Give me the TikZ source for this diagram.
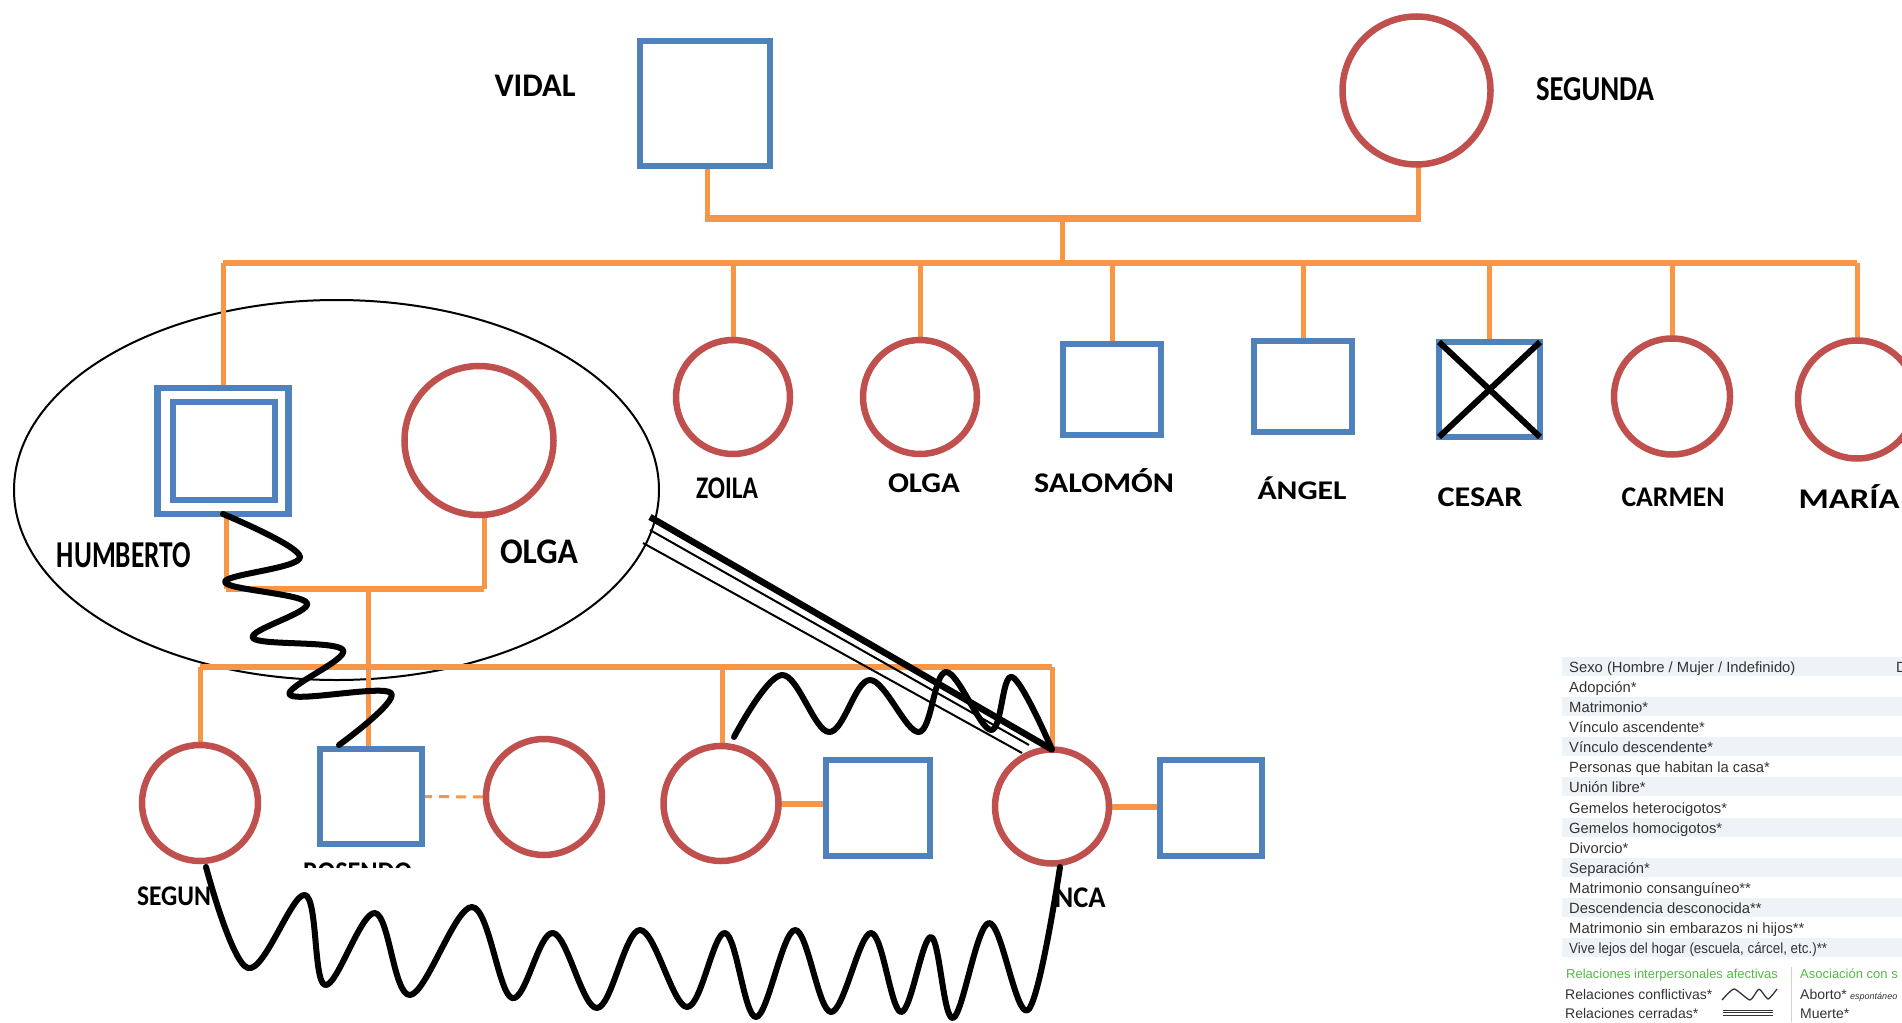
\documentclass[tikz,border=0pt]{standalone}
\usepackage{fontspec}
\usepackage{graphicx}
\setmainfont{Carlito}
\newfontfamily\lgfont{Liberation Sans}
\usetikzlibrary{shapes.geometric,backgrounds}
\definecolor{pblue}{HTML}{4F81BD}
\definecolor{pred}{HTML}{C0504D}
\definecolor{porange}{HTML}{F79646}
\definecolor{lgband}{HTML}{EEF3F8}
\definecolor{lgtext}{HTML}{333333}
\definecolor{lggreen}{HTML}{55B848}
\newcommand\nmlbl[3]{{\fontsize{#1}{#1}\selectfont\bfseries\resizebox{#2}{\height}{#3}}}
\begin{document}
\begin{tikzpicture}[x=1pt,y=-1pt,
  male/.style={draw=pblue, line width=6.5pt, rectangle, inner sep=0pt, outer sep=0pt, fill=white},
  female/.style={draw=pred, line width=6.5pt, circle, inner sep=0pt, outer sep=0pt, fill=white},
  oline/.style={draw=porange, line width=6pt, line cap=square},
  odrop/.style={draw=porange, line width=5pt},
  wave/.style={draw=black, line width=6pt, line cap=round, line join=round},
  pname/.style={inner sep=0pt, outer sep=0pt, anchor=base, text=black},
  lg/.style={font=\lgfont\fontsize{14.8}{14.8}\selectfont, text=lgtext, anchor=base west, inner sep=0pt},
  lgs/.style={font=\lgfont\fontsize{14}{14}\selectfont, text=lgtext, anchor=base west, inner sep=0pt},
  lgg/.style={font=\lgfont\fontsize{13}{13}\selectfont, text=lggreen, anchor=base west, inner sep=0pt},
]
\useasboundingbox (0,0) rectangle (1902,1022);

% ---------- persons ----------
\node[male, minimum width=130pt, minimum height=125pt] (vidal) at (705,103.5) {};
\node[female, minimum size=148pt] (segunda) at (1416.5,90.5) {};

\node[male, minimum width=131pt, minimum height=126pt] (hum) at (223,451) {};
\node[male, minimum width=102pt, minimum height=98pt] (huminner) at (224,451) {};
\node[female, minimum size=149pt] (olga2) at (479,440.5) {};

\node[female, minimum size=114pt] (zoila) at (733,397) {};
\node[female, minimum size=114pt] (olga) at (920,397) {};
\node[male, minimum width=98pt, minimum height=91pt] (salomon) at (1112,389.5) {};
\node[male, minimum width=98pt, minimum height=91pt] (angel) at (1303,386.5) {};
\node[male, minimum width=101pt, minimum height=95pt] (cesar) at (1489.5,389.5) {};
\node[female, minimum size=116pt] (carmen) at (1672,396.5) {};
\node[female, minimum size=118pt] (maria) at (1857,399.5) {};

\node[female, minimum size=116pt] (c1) at (200,803) {};
\node[male, minimum width=102pt, minimum height=95pt] (ros) at (371,796.5) {};
\node[female, minimum size=116pt] (c3) at (544,797) {};
\node[female, minimum size=115pt] (c4) at (721,803.5) {};
\node[male, minimum width=104pt, minimum height=96pt] (s4) at (878,808) {};
\node[female, minimum size=114pt] (c5) at (1052,806.5) {};
\node[male, minimum width=102pt, minimum height=96pt] (s5) at (1211,808) {};

% ---------- junction coordinates ----------
\coordinate (vs) at (1062,218);
\coordinate (sib) at (1062,263);
\coordinate (hc) at (368,589);
\coordinate (ch) at (368,667);

\begin{pgfonlayer}{background}
  \node[ellipse, draw=black, line width=2pt, minimum width=645pt, minimum height=380pt, inner sep=0pt] (fam) at (336.5,490) {};
  % parents
  \draw[odrop] ([xshift=2pt]vidal.south) -- ([xshift=2pt]vidal.south |- vs);
  \draw[odrop] ([xshift=1.5pt]segunda.south) -- ([xshift=1.5pt]segunda.south |- vs);
  \draw[porange, line width=7pt] ([xshift=-0.5pt]vidal.south |- vs) -- ([xshift=4pt]segunda.south |- vs);
  \draw[odrop] (vs) -- (sib);
  % siblings
  \draw[oline] (hum.north |- sib) -- (maria.north |- sib);
  \foreach \p in {hum,zoila,olga,salomon,angel,cesar,carmen,maria}
    \draw[odrop] (\p.north |- sib) -- (\p.north);
  % Humberto + Olga
  \draw[odrop] ([xshift=3pt]hum.south) -- ([xshift=3pt]hum.south |- hc);
  \draw[odrop] ([xshift=5pt]olga2.south) -- ([xshift=5pt]olga2.south |- hc);
  \draw[oline] ([xshift=3pt]hum.south |- hc) -- ([xshift=5pt]olga2.south |- hc);
  \draw[odrop] (hc) -- (hc |- ros.north);
  % children
  \draw[oline] (c1.north |- ch) -- (c5.north |- ch);
  \draw[odrop] (c1.north |- ch) -- (c1.north);
  \draw[odrop] ([xshift=1pt]c4.north |- ch) -- ([xshift=1pt]c4.north);
  \draw[odrop] (c5.north |- ch) -- (c5.north);
  \draw[porange, line width=3pt, dash pattern=on 10pt off 7pt] (ros.east) -- (c3.west);
  \draw[porange, line width=6pt] (c4.east) -- (c4.east -| s4.west);
  \draw[porange, line width=6pt] (c5.east) -- (c5.east -| s5.west);
\end{pgfonlayer}

% ---------- deceased mark ----------
\draw[black, line width=6pt] (cesar.north west) -- (cesar.south east);
\draw[black, line width=6pt] (cesar.south west) -- (cesar.north east);

% ---------- relationship lines ----------
\coordinate (z1e) at (339,745);
\draw[wave] plot[smooth, tension=0.6] coordinates {(hum.south) (300,557) (225,582) (307,603) (253,638) (343,650) (290,695) (391,693) (z1e)};

\coordinate (z2s) at (734,737);
\draw[wave] plot[smooth, tension=0.6] coordinates {(z2s) (782,675) (829,732) (870,680) (919,732) (946,672) (991,730) (1012,677) (c5.north)};

\coordinate (t1a) at (650,517);
\coordinate (t2a) at (650,530);
\coordinate (t2b) at (1029,745);
\coordinate (t3a) at (643,543);
\coordinate (t3b) at (1022,753);
\draw[black, line width=6.5pt] (t1a) -- (c5.north);
\draw[black, line width=2pt] (t2a) -- (t2b);
\draw[black, line width=2pt] (t3a) -- (t3b);

\coordinate (z4s) at (206,867);
\coordinate (z4e) at (1060,867);
\draw[wave] plot[smooth, tension=0.6] coordinates {(z4s) (248,968) (305,895) (325,985) (375,913) (410,995) (472,907) (512,998) (553,933) (597,1008) (640,930) (687,1007) (725,933) (756,1017) (795,930) (831,1012) (871,933) (901,1012) (931,937) (953,1018) (989,923) (1028,1010) (z4e)};

% ---------- names ----------
\node[pname] (lvidal) at (535,97) {\nmlbl{33}{81pt}{VIDAL}};
\node[pname] (lsegunda) at (1595,101) {\nmlbl{35}{118pt}{SEGUNDA}};
\node[pname] (lzoila) at (727,498) {\nmlbl{31.5}{62pt}{ZOILA}};
\node[pname] (lolga) at (924,492) {\nmlbl{28.5}{72pt}{OLGA}};
\node[pname] (lsalomon) at (1104,492) {\nmlbl{28.5}{140pt}{SALOMÓN}};
\node[pname] (langel) at (1302,499) {\nmlbl{27}{89pt}{ÁNGEL}};
\node[pname] (lcesar) at (1480,506) {\nmlbl{28.5}{85pt}{CESAR}};
\node[pname] (lcarmen) at (1673,506) {\nmlbl{28.5}{103pt}{CARMEN}};
\node[pname] (lmaria) at (1849,508) {\nmlbl{28.5}{101pt}{MARÍA}};
\node[pname] (lhum) at (124,567) {\nmlbl{38}{134pt}{HUMBERTO}};
\node[pname] (lolga2) at (539,563) {\nmlbl{36}{78pt}{OLGA}};
\node[pname] (lsegun) at (174,905) {\nmlbl{28.5}{74pt}{SEGUN}};
\node[pname] (lnca) at (1080,907) {\nmlbl{30}{51pt}{NCA}};
\begin{scope}
  \clip (280,850) rectangle (440,867);
  \node[pname] (lros) at (357.5,881) {\nmlbl{28.5}{109pt}{ROSENDO}};
\end{scope}

% ---------- legend ----------
\fill[lgband] (1562,657) rectangle (1902,676);
\fill[lgband] (1562,697.1) rectangle (1902,716.1);
\fill[lgband] (1562,737.3) rectangle (1902,756.3);
\fill[lgband] (1562,777.4) rectangle (1902,796.4);
\fill[lgband] (1562,817.6) rectangle (1902,836.6);
\fill[lgband] (1562,857.7) rectangle (1902,876.7);
\fill[lgband] (1562,897.8) rectangle (1902,916.8);
\fill[lgband] (1562,938) rectangle (1902,957);

\node[lg] (lg0) at (1569,672.5) {Sexo (Hombre / Mujer / Indefinido)};
\node[lg] (lgD) at (1896,672.5) {D};
\node[lg] (lg1) at (1569,692.6) {Adopción*};
\node[lg] (lg2) at (1569,712.6) {Matrimonio*};
\node[lg] (lg3) at (1569,732.7) {Vínculo ascendente*};
\node[lg] (lg4) at (1569,752.8) {Vínculo descendente*};
\node[lg] (lg5) at (1569,772.9) {Personas que habitan la casa*};
\node[lg] (lg6) at (1569,792.9) {Unión libre*};
\node[lg] (lg7) at (1569,813.0) {Gemelos heterocigotos*};
\node[lg] (lg8) at (1569,833.1) {Gemelos homocigotos*};
\node[lg] (lg9) at (1569,853.1) {Divorcio*};
\node[lg] (lg10) at (1569,873.2) {Separación*};
\node[lg] (lg11) at (1569,893.3) {Matrimonio consanguíneo**};
\node[lg] (lg12) at (1569,913.3) {Descendencia desconocida**};
\node[lg] (lg13) at (1569,933.4) {Matrimonio sin embarazos ni hijos**};
\node[lg] (lg14) at (1569,953.5) {\resizebox{258pt}{\height}{Vive lejos del hogar (escuela, cárcel, etc.)**}};

\coordinate (sepa) at (1791,967);
\coordinate (sepb) at (1791,1022);
\draw[black!18, line width=1pt] (sepa) -- (sepb);
\node[lgg] (lgr) at (1566,978.7) {Relaciones interpersonales afectivas};
\node[lgg] (lga) at (1800,978.7) {Asociación con s};
\node[lgs] (lgc) at (1565,999) {Relaciones conflictivas*};
\coordinate (zza) at (1722,1000);
\coordinate (zzb) at (1777,989);
\draw[lgtext, line width=1.3pt, line join=round] plot[smooth, tension=0.35] coordinates {(zza) (1734,989) (1750,1000) (1759,989) (1768,999) (zzb)};
\node[lgs] (lgab) at (1800,999) {Aborto*};
\node[lgs, font=\lgfont\itshape\fontsize{9}{9}\selectfont] (lgesp) at (1850,999) {espontáneo};
\node[lgs] (lgce) at (1565,1018) {Relaciones cerradas*};
\coordinate (tla) at (1723,1010);
\coordinate (tlb) at (1773,1010);
\draw[lgtext, line width=0.9pt] (tla) -- (tlb);
\draw[lgtext, line width=0.9pt] ([yshift=-2.5pt]tla) -- ([yshift=-2.5pt]tlb);
\draw[lgtext, line width=0.9pt] ([yshift=-5pt]tla) -- ([yshift=-5pt]tlb);
\node[lgs] (lgm) at (1800,1018) {Muerte*};
\end{tikzpicture}
\end{document}
